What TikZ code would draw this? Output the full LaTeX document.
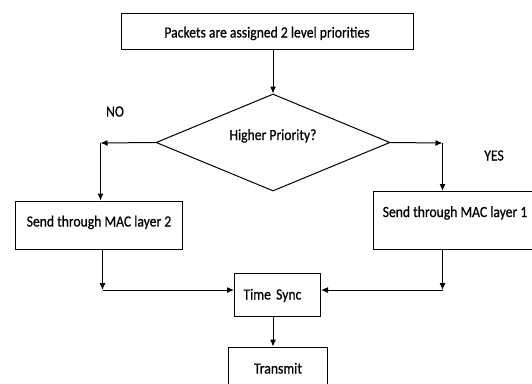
\documentclass[tikz,border=0pt]{standalone}
\usepackage{fontspec}
\setmainfont{Carlito}[FakeStretch=0.88,FakeBold=0.6]
\usetikzlibrary{shapes.geometric,arrows.meta}
\begin{document}
\begin{tikzpicture}[x=1pt,y=-1pt,line width=1pt,font=\fontsize{15.5}{18}\selectfont,
  box/.style={draw,rectangle,inner sep=0pt,anchor=north west},
  decision/.style={draw,diamond,inner sep=0pt,minimum width=234pt,minimum height=97pt},
  arr/.style={-{Latex[length=7pt,width=6pt]}}]
\clip (0,0) rectangle (532,383);
\node[box,minimum width=292pt,text height=24.2pt,text depth=12.3pt] (prio) at (120.5,12.8) {Packets are assigned 2 level priorities};
\node[decision] (dec) at (273,142.5) {};
\node[anchor=base,inner sep=0pt] (q) at (273,140) {Higher Priority?};
\node[anchor=base,inner sep=0pt] (no) at (115,116.5) {NO};
\node[anchor=base,inner sep=0pt] (yes) at (494,160.5) {YES};
\node[box,minimum width=167pt,text height=25.5pt,text depth=23pt] (mac2) at (15,200.5) {Send through MAC layer 2};
\node[box,minimum width=164pt,text height=25.5pt,text depth=32.5pt] (mac1) at (372.5,191) {Send through MAC layer 1};
\node[box,inner xsep=9pt,text width=68pt,align=left,text height=26.5pt,text depth=16.5pt] (sync) at (234,272.5) {Time Sync};
\node[box,minimum width=99pt,text height=26.5pt,text depth=35pt] (tx) at (228,346.5) {Transmit};
% corners of the branches
\coordinate (nl) at (100.5,143);
\coordinate (nr) at (442.5,143);
\coordinate (bl) at (102.5,290);
\coordinate (br) at (442.5,290);
\draw[arr] (prio.south -| dec.north) -- (dec.north);
\draw[arr] (dec.west) -- (nl);
\draw[arr] (nl) -- (nl |- mac2.north);
\draw[arr] (dec.east) -- (nr);
\draw[arr] (nr) -- (nr |- mac1.north);
\draw[arr] (mac2.south -| bl) -- (bl);
\draw[arr] (bl) -- (bl -| sync.west);
\draw[arr] (mac1.south -| br) -- (br);
\draw[arr] (br) -- (br -| sync.east);
\draw[arr] (sync.south -| dec.south) -- (tx.north -| dec.south);
\end{tikzpicture}
\end{document}
